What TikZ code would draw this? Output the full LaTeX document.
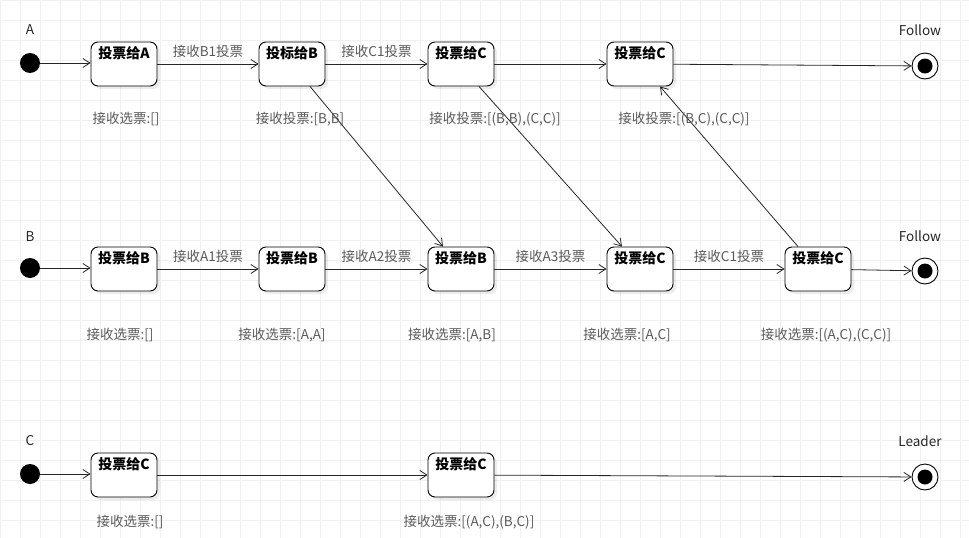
\documentclass[tikz,border=0pt]{standalone}
\usepackage{fontspec}
\setmainfont{Noto Sans CJK SC}
\usetikzlibrary{arrows.meta,shadows}
\begin{document}
\begin{tikzpicture}[x=1pt,y=-1pt,
 st/.style={draw,line width=0.9pt,rounded corners=7pt,minimum width=66pt,minimum height=44pt,fill=white,
   drop shadow={opacity=0.15,shadow xshift=3pt,shadow yshift=-3pt},
   label={[anchor=north,inner sep=0pt,yshift=-5pt,font=\fontsize{14}{16}\selectfont\bfseries]north:#1}},
 ini/.style={circle,fill=black,minimum size=20pt,inner sep=0pt},
 fin/.style={circle,draw,line width=0.9pt,fill=white,minimum size=26pt,inner sep=0pt},
 dot/.style={circle,fill=black,minimum size=15pt,inner sep=0pt},
 lab/.style={font=\fontsize{13.5}{15}\selectfont,text=black!65},
 hdr/.style={font=\fontsize{13.5}{15}\selectfont,text=black!85},
 ar/.style={-{Straight Barb[length=7pt,width=9pt]},line width=0.8pt,draw=black!85}]
\useasboundingbox (0,0) rectangle (969,538);
\foreach \i in {0,20,...,960} \draw[black!6] (\i,0) -- (\i,538);
\foreach \j in {0,20,...,530} \draw[black!6] (0,\j) -- (969,\j);
% row A
\node[hdr] (tA) at (30,30) {A};
\node[ini] (sA) at (30,63) {};
\node[st=投票给A] (a1) at (124,64) {};
\node[st=投标给B] (a2) at (292,64) {};
\node[st=投票给C] (a3) at (461,64) {};
\node[st=投票给C] (a4) at (640,64) {};
\node[fin] (eA) at (925,66) {};
\node[dot] (dA) at (eA) {};
\node[hdr] (fA) at (920,30) {Follow};
% row B
\node[hdr] (tB) at (30,237) {B};
\node[ini] (sB) at (30,268) {};
\node[st=投票给B] (b1) at (124,269) {};
\node[st=投票给B] (b2) at (292,269) {};
\node[st=投票给B] (b3) at (461,269) {};
\node[st=投票给C] (b4) at (640,269) {};
\node[st=投票给C] (b5) at (818,269) {};
\node[fin] (eB) at (925,271) {};
\node[dot] (dB) at (eB) {};
\node[hdr] (fB) at (920,236) {Follow};
% row C
\node[hdr] (tC) at (30,441) {C};
\node[ini] (sC) at (30,474) {};
\node[st=投票给C] (c1) at (124,475) {};
\node[st=投票给C] (c2) at (461,475) {};
\node[fin] (eC) at (925,477) {};
\node[dot] (dC) at (eC) {};
\node[hdr] (fC) at (920,441) {Leader};
% arrows
\draw[ar] (sA) -- (sA -| a1.west);
\draw[ar] (a1) -- node[lab,above=3pt]{接收B1投票} (a2);
\draw[ar] (a2) -- node[lab,above=3pt]{接收C1投票} (a3);
\draw[ar] (a3) -- (a4);
\draw[ar] (a4) -- (eA);
\draw[ar] (sB) -- (sB -| b1.west);
\draw[ar] (b1) -- node[lab,above=3pt]{接收A1投票} (b2);
\draw[ar] (b2) -- node[lab,above=3pt]{接收A2投票} (b3);
\draw[ar] (b3) -- node[lab,above=3pt]{接收A3投票} (b4);
\draw[ar] (b4) -- node[lab,above=3pt]{接收C1投票} (b5);
\draw[ar] (b5) -- (eB);
\draw[ar] (sC) -- (sC -| c1.west);
\draw[ar] (c1) -- (c2);
\draw[ar] (c2) -- (eC);
\draw[ar] ([xshift=18pt]a2.south) -- ([xshift=-18pt]b3.north);
\draw[ar] ([xshift=18pt]a3.south) -- ([xshift=-18pt]b4.north);
\draw[ar] ([xshift=-20pt]b5.north) -- ([xshift=20pt]a4.south);
% state labels
\node[lab] (la1) at (126,119) {接收选票:[]};
\node[lab] (la2) at (300,119) {接收投票:[B,B]};
\node[lab] (la3) at (495,119) {接收投票:[(B,B),(C,C)]};
\node[lab] (la4) at (684,119) {接收投票:[(B,C),(C,C)]};
\node[lab] (lb1) at (120,335) {接收选票:[]};
\node[lab] (lb2) at (282,335) {接收选票:[A,A]};
\node[lab] (lb3) at (452,335) {接收选票:[A,B]};
\node[lab] (lb4) at (627,335) {接收选票:[A,C]};
\node[lab] (lb5) at (826,335) {接收选票:[(A,C),(C,C)]};
\node[lab] (lc1) at (130,522) {接收选票:[]};
\node[lab] (lc2) at (469,522) {接收选票:[(A,C),(B,C)]};
\end{tikzpicture}
\end{document}
